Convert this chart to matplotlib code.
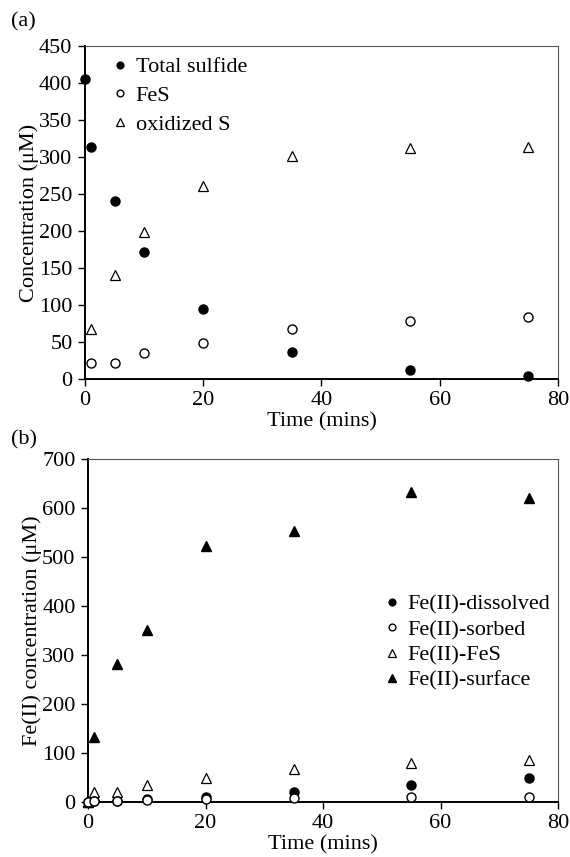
import matplotlib.pyplot as plt

plt.rcParams['font.family'] = ['Liberation Serif', 'DejaVu Serif']

# panel (a)
t_a = [0, 1, 5, 10, 20, 35, 55, 75]
total_sulfide = [405, 314, 241, 171, 94, 37, 12, 4]
t_fes = [1, 5, 10, 20, 35, 55, 75]
fes = [22, 22, 35, 49, 67, 79, 84]
oxidized_s = [67, 141, 198, 261, 301, 312, 314]

# panel (b)
t_b = [0, 1, 5, 10, 20, 35, 55, 75]
fe_dissolved = [0, 2, 3, 7, 11, 20, 35, 48]
fe_sorbed = [0, 2, 3, 5, 6, 8, 10, 10]
fe_fes = [0, 20, 20, 35, 49, 67, 79, 86]
fe_surface = [0, 132, 282, 350, 522, 553, 632, 620]

fig = plt.figure(figsize=(5.7, 8.57), dpi=100)
ax1 = fig.add_axes([0.1491, 0.5578, 0.8298, 0.3886])
ax2 = fig.add_axes([0.1544, 0.0642, 0.8246, 0.4002])

ms = 6.5
ax1.plot(t_a, total_sulfide, 'o', color='black', ms=ms, label='Total sulfide', clip_on=False)
ax1.plot(t_fes, fes, 'o', mfc='white', mec='black', mew=1, ms=ms, label='FeS', clip_on=False)
ax1.plot(t_fes, oxidized_s, '^', mfc='white', mec='black', mew=0.9, ms=7, label='oxidized S', clip_on=False)

ax2.plot(t_b, fe_surface, '^', color='black', ms=7, label='Fe(II)-surface', clip_on=False, zorder=3)
ax2.plot(t_b, fe_fes, '^', mfc='white', mec='black', mew=0.9, ms=7, label='Fe(II)-FeS', clip_on=False, zorder=4)
ax2.plot(t_b, fe_dissolved, 'o', color='black', ms=ms, label='Fe(II)-dissolved', clip_on=False, zorder=5)
ax2.plot(t_b, fe_sorbed, 'o', mfc='white', mec='black', mew=1, ms=ms, label='Fe(II)-sorbed', clip_on=False, zorder=6)

for ax in (ax1, ax2):
    ax.set_xlim(0, 80)
    ax.set_xticks([0, 20, 40, 60, 80])
    ax.tick_params(direction='out', length=5, width=1, labelsize=16, top=False, right=False, pad=4)
    ax.spines['left'].set_linewidth(1.4)
    ax.spines['bottom'].set_linewidth(1.4)
    ax.spines['top'].set_linewidth(0.8)
    ax.spines['right'].set_linewidth(0.8)
    ax.spines['top'].set_color('#555555')
    ax.spines['right'].set_color('#555555')
    ax.set_xlabel('Time (mins)', fontsize=16, labelpad=1)

ax1.set_ylim(0, 450)
ax1.set_yticks(range(0, 451, 50))
ax1.set_ylabel('Concentration (μM)', fontsize=16, labelpad=0)

ax2.set_ylim(0, 700)
ax2.set_yticks(range(0, 701, 100))
ax2.set_ylabel('Fe(II) concentration (μM)', fontsize=16, labelpad=0)

ax1.legend(loc='upper left', bbox_to_anchor=(0.060, 0.967), frameon=False, fontsize=16,
           markerscale=0.75, handlelength=0.6, handletextpad=0.4, labelspacing=0.36,
           borderpad=0, borderaxespad=0)

h, l = ax2.get_legend_handles_labels()
order = [2, 3, 1, 0]
ax2.legend([h[i] for i in order], [l[i] for i in order], loc='center right',
           bbox_to_anchor=(0.984, 0.465), frameon=False, fontsize=16,
           markerscale=0.75, handlelength=0.6, handletextpad=0.4, labelspacing=0.22,
           borderpad=0, borderaxespad=0)

fig.text(0.02, 0.974, '(a)', fontsize=16, va='center')
fig.text(0.02, 0.4866, '(b)', fontsize=16, va='center')

fig.savefig('out.png', dpi=100)
